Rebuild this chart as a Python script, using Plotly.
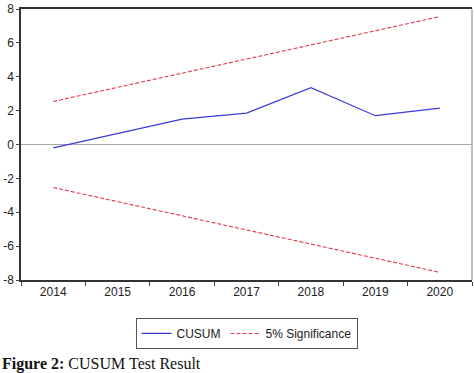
import plotly.graph_objects as go

years = ["2014", "2015", "2016", "2017", "2018", "2019", "2020"]
cusum = [-0.2, 0.65, 1.5, 1.85, 3.35, 1.7, 2.15]
upper = [2.54, 3.38, 4.21, 5.05, 5.88, 6.72, 7.55]
lower = [-2.54, -3.38, -4.21, -5.05, -5.88, -6.72, -7.55]
ytick_vals = [-8, -6, -4, -2, 0, 2, 4, 6, 8]
ytick_text = ["-8", "-6", "-4", "-2", "0", "2", "4", "6", "8"]

fig = go.Figure()
fig.add_trace(go.Scatter(x=years, y=cusum, mode="lines", name="CUSUM",
                         line=dict(color="#3a3ad6", width=1.2)))
fig.add_trace(go.Scatter(x=years, y=upper, mode="lines", name="5% Significance",
                         line=dict(color="#e03a4e", width=1.1, dash="4px,2px")))
fig.add_trace(go.Scatter(x=years, y=lower, mode="lines", name="5% Significance",
                         showlegend=False,
                         line=dict(color="#e03a4e", width=1.1, dash="4px,2px")))

fig.update_layout(
    width=474, height=373,
    margin=dict(l=21, r=2, t=9, b=93),
    paper_bgcolor="white", plot_bgcolor="white",
    font=dict(family="Liberation Sans, Arial", size=12, color="#222"),
    showlegend=True,
    legend=dict(orientation="h", x=0.5, xanchor="center", y=-0.14, yanchor="top",
                bordercolor="#555", borderwidth=1, font=dict(size=12),
                itemwidth=30, tracegroupgap=0),
)
fig.update_xaxes(type="category", range=[-0.5, 6.5], showgrid=False,
                 tickson="boundaries", ticks="outside", ticklen=4, tickcolor="#444",
                 showline=True, linecolor="#333", linewidth=1.5, mirror=True,
                 tickfont=dict(size=12))
fig.update_yaxes(range=[-8, 8], tickvals=ytick_vals, ticktext=ytick_text,
                 showgrid=False, ticks="outside", ticklen=3, tickcolor="#444",
                 showline=True, linecolor="#333", linewidth=1.5,
                 zeroline=True, zerolinecolor="#aaa", zerolinewidth=1,
                 tickfont=dict(size=12))
fig.add_shape(type="line", xref="paper", yref="paper", x0=1, x1=1, y0=0, y1=1,
              line=dict(color="#aaa", width=1.5))
fig.add_annotation(xref="paper", yref="paper", x=-0.0466, y=-0.31,
                   xanchor="left", yanchor="middle", showarrow=False,
                   text="<b>Figure 2:</b> CUSUM Test Result",
                   font=dict(family="Liberation Serif, DejaVu Serif", size=16, color="#111"))

fig.write_html("out.html", config={"displayModeBar": False},
               post_script="document.body.style.margin='0';document.body.style.overflow='hidden';")
